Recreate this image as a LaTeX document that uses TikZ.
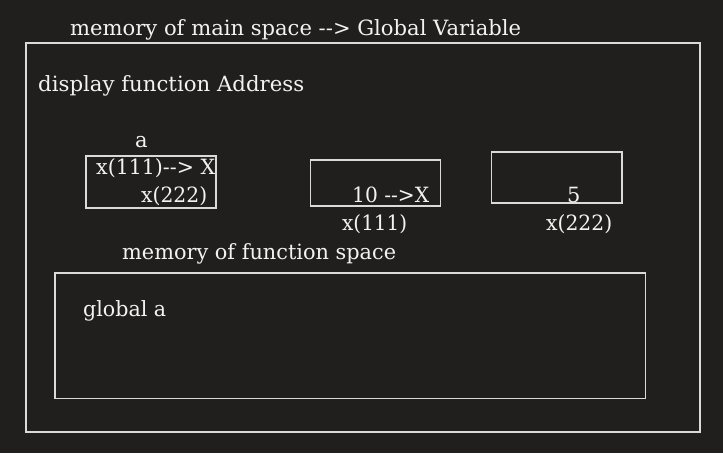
\documentclass[tikz,border=0pt]{standalone}
\usepackage{graphicx}
\usepackage{fontspec}
\setmainfont{DejaVu Serif}
\definecolor{bg}{HTML}{201F1E}
\definecolor{fg}{HTML}{F2F2F2}
\definecolor{ln}{HTML}{DADADA}
\newcommand{\fitto}[2]{\resizebox{#1}{\height}{#2}}
\begin{document}
\begin{tikzpicture}[x=1pt,y=1pt,
  box/.style={draw=ln, line width=1.8pt, inner sep=0pt, anchor=north west},
  lbl/.style={text=fg, font=\fontsize{21}{25}\selectfont, inner sep=0pt, anchor=base west}]
\fill[bg] (0,0) rectangle (723,453);
\useasboundingbox (0,0) rectangle (723,453);
% boxes
\node[box, minimum width=674pt, minimum height=389pt] (outer) at (25,411) {};
\node[box, minimum width=130pt, minimum height=52.5pt] (boxa) at (85,298) {};
\node[box, minimum width=130pt, minimum height=46pt] (boxb) at (309.5,293.5) {};
\node[box, minimum width=130.5pt, minimum height=51.5pt] (boxc) at (490.5,302) {};
\node[box, minimum width=590.5pt, minimum height=125.5pt] (boxd) at (54,181) {};
% labels
\node[lbl] (title) at (70,417) {\fitto{451pt}{memory of main space -{}-> Global Variable}};
\node[lbl] (disp) at (38,361) {\fitto{266pt}{display function Address}};
\node[lbl] (la) at (135,305) {a};
\node[lbl] (xa1) at (96,278) {\fitto{119pt}{x(111)-{}-> X}};
\node[lbl] (xa2) at (141,250) {\fitto{66pt}{x(222)}};
\node[lbl] (ten) at (352,250) {\fitto{77pt}{10 -{}->X}};
\node[lbl] (xb) at (342,222) {\fitto{65pt}{x(111)}};
\node[lbl] (five) at (567,250) {5};
\node[lbl] (xc) at (546,222) {\fitto{66pt}{x(222)}};
\node[lbl] (fspace) at (122,193) {\fitto{274pt}{memory of function space}};
\node[lbl] (glob) at (83,137) {\fitto{83pt}{global a}};
\end{tikzpicture}
\end{document}
